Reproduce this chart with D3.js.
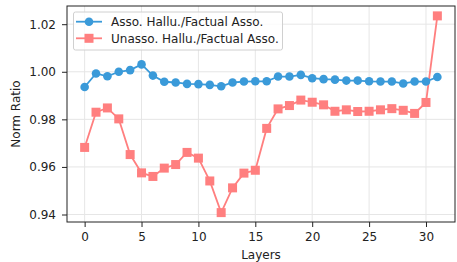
<!DOCTYPE html>
<html>
<head>
<meta charset="utf-8">
<script src="https://cdn.jsdelivr.net/npm/d3@7"></script>
<style>
  body { margin: 0; background: #fff; }
  svg { display: block; font-family: "DejaVu Sans", sans-serif; }
</style>
</head>
<body>
<svg width="457" height="262"></svg>
<script>
const layers = d3.range(0, 32);
const assoValues = [
  0.9936, 0.9993, 0.9981, 1.0000, 1.0007, 1.0031, 0.9984, 0.9958,
  0.9955, 0.9949, 0.9948, 0.9945, 0.9939, 0.9955, 0.9959, 0.9960,
  0.9960, 0.9980, 0.9980, 0.9987, 0.9973, 0.9969, 0.9967, 0.9963,
  0.9963, 0.9960, 0.9959, 0.9959, 0.9951, 0.9959, 0.9959, 0.9978
];
const unassoValues = [
  0.9682, 0.9830, 0.9848, 0.9802, 0.9652, 0.9575, 0.9560, 0.9595,
  0.9610, 0.9661, 0.9637, 0.9541, 0.9408, 0.9512, 0.9574, 0.9586,
  0.9762, 0.9844, 0.9858, 0.9881, 0.9872, 0.9861, 0.9834, 0.9840,
  0.9833, 0.9834, 0.9840, 0.9845, 0.9838, 0.9825, 0.9871, 1.0235
];
const xTicks = [0, 5, 10, 15, 20, 25, 30];
const yTicks = [0.94, 0.96, 0.98, 1.00, 1.02];
const seriesNames = ["Asso. Hallu./Factual Asso.", "Unasso. Hallu./Factual Asso."];

const blue = "#3a9ad9";
const red = "#ff7f7f";

const svg = d3.select("svg");
const margin = { top: 6, right: 2, bottom: 40, left: 67 };
const width = 457, height = 262;
const x0 = margin.left, x1 = width - margin.right;
const y0 = margin.top, y1 = height - margin.bottom;

const xScale = d3.scaleLinear().domain([-1.55, 32.55]).range([x0, x1]);
const yScale = d3.scaleLinear().domain([0.93685, 1.02765]).range([y1, y0]);

// grid
const grid = svg.append("g").attr("stroke", "#e6e6e6").attr("stroke-width", 1);
xTicks.forEach(t => {
  grid.append("line")
    .attr("x1", xScale(t)).attr("x2", xScale(t))
    .attr("y1", y0).attr("y2", y1);
});
yTicks.forEach(t => {
  grid.append("line")
    .attr("x1", x0).attr("x2", x1)
    .attr("y1", yScale(t)).attr("y2", yScale(t));
});

// axes
const xAxis = svg.append("g")
  .attr("transform", `translate(0,${y1})`)
  .call(d3.axisBottom(xScale).tickValues(xTicks).tickSize(5).tickPadding(5).tickFormat(d3.format("d")));
const yAxis = svg.append("g")
  .attr("transform", `translate(${x0},0)`)
  .call(d3.axisLeft(yScale).tickValues(yTicks).tickSize(5).tickPadding(6).tickFormat(d3.format(".2f")));
[xAxis, yAxis].forEach(a => {
  a.select(".domain").remove();
  a.selectAll("text").attr("font-size", 12).attr("fill", "#222").attr("font-family", "DejaVu Sans");
  a.selectAll("line").attr("stroke", "#222");
});

// frame
svg.append("rect")
  .attr("x", x0).attr("y", y0)
  .attr("width", x1 - x0).attr("height", y1 - y0)
  .attr("fill", "none").attr("stroke", "#222").attr("stroke-width", 1);

const line = d3.line().x((d, i) => xScale(layers[i])).y(d => yScale(d));

// unassociated series
svg.append("path")
  .attr("d", line(unassoValues))
  .attr("fill", "none").attr("stroke", red).attr("stroke-width", 1.8);
svg.selectAll(".sq")
  .data(unassoValues)
  .enter().append("rect")
  .attr("x", (d, i) => xScale(layers[i]) - 4.5)
  .attr("y", d => yScale(d) - 4.5)
  .attr("width", 9).attr("height", 9)
  .attr("fill", red);

// associated series
svg.append("path")
  .attr("d", line(assoValues))
  .attr("fill", "none").attr("stroke", blue).attr("stroke-width", 1.8);
svg.selectAll(".dot")
  .data(assoValues)
  .enter().append("circle")
  .attr("cx", (d, i) => xScale(layers[i]))
  .attr("cy", d => yScale(d))
  .attr("r", 4.3)
  .attr("fill", blue);

// legend
const legend = svg.append("g");
legend.append("rect")
  .attr("x", 73.5).attr("y", 12)
  .attr("width", 209).attr("height", 38)
  .attr("rx", 2)
  .attr("fill", "#fff").attr("fill-opacity", 0.8)
  .attr("stroke", "#d0d0d0");
[blue, red].forEach((c, i) => {
  const cy = 21.7 + i * 16.6;
  legend.append("line")
    .attr("x1", 76).attr("x2", 102)
    .attr("y1", cy).attr("y2", cy)
    .attr("stroke", c).attr("stroke-width", 1.8);
  if (i === 0) {
    legend.append("circle").attr("cx", 89).attr("cy", cy).attr("r", 4.3).attr("fill", c);
  } else {
    legend.append("rect").attr("x", 84.5).attr("y", cy - 4.5).attr("width", 9).attr("height", 9).attr("fill", c);
  }
  legend.append("text")
    .attr("x", 111).attr("y", cy)
    .attr("dy", "0.35em")
    .attr("font-size", 12).attr("fill", "#222")
    .text(seriesNames[i]);
});

// axis titles
svg.append("text")
  .attr("x", (x0 + x1) / 2).attr("y", 255)
  .attr("text-anchor", "middle").attr("dy", "0.35em")
  .attr("font-size", 12).attr("fill", "#222")
  .text("Layers");
svg.append("text")
  .attr("transform", `translate(16,${(y0 + y1) / 2}) rotate(-90)`)
  .attr("text-anchor", "middle").attr("dy", "0.35em")
  .attr("font-size", 12).attr("fill", "#222")
  .text("Norm Ratio");
</script>
</body>
</html>
